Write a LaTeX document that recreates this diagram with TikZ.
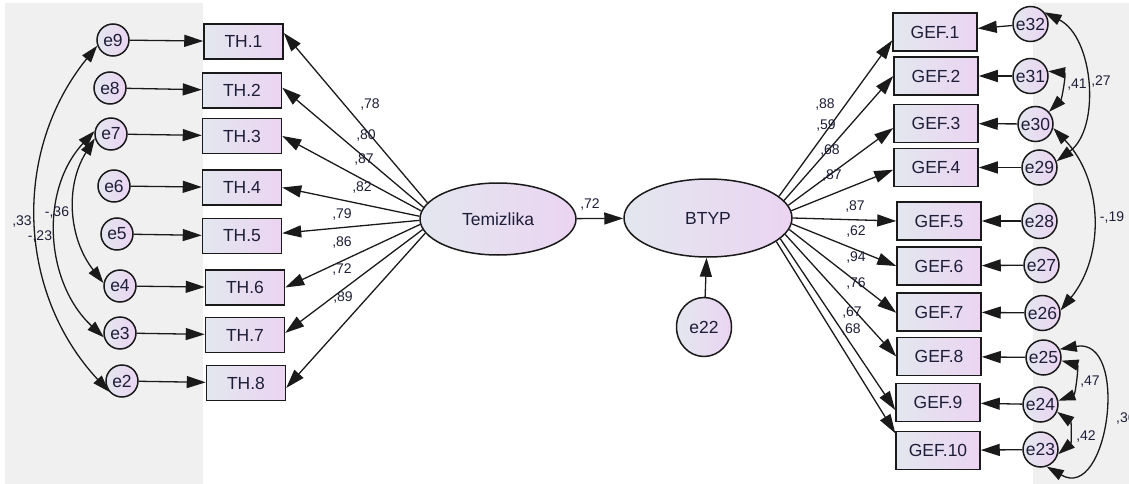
\documentclass[tikz,border=0pt]{standalone}
\usepackage{fontspec}
\setmainfont{Liberation Sans}
\usetikzlibrary{shapes.geometric,arrows.meta}
\definecolor{gL}{HTML}{E3E7EF}
\definecolor{gR}{HTML}{EBD4F1}
\definecolor{bgg}{HTML}{F0F0F0}
\definecolor{txt}{HTML}{1E1E38}
\definecolor{ln}{HTML}{1A1A1A}
\newcommand{\mainfs}{\fontsize{17.5}{20}\selectfont}
\newcommand{\labfs}{\fontsize{14}{16}\selectfont}
\begin{document}
\begin{tikzpicture}[x=1pt,y=1pt,
  >={Triangle[length=19pt,width=12pt]},
  shp/.style={draw=ln, line width=1.5pt, left color=gL, right color=gR, text=txt, font=\mainfs, inner sep=0pt},
  thbox/.style={shp, rectangle, minimum width=79pt, minimum height=35pt},
  gefbox/.style={shp, rectangle, minimum width=84pt, minimum height=38pt},
  lerr/.style={shp, circle, minimum size=32pt},
  rerr/.style={shp, circle, minimum size=35pt},
  lat/.style={shp, ellipse},
  pth/.style={->, draw=ln, line width=1.3pt},
  cov/.style={{Triangle[length=17pt,width=11pt]}-{Triangle[length=17pt,width=11pt]}, draw=ln, line width=1.3pt},
  lab/.style={font=\labfs, text=txt, inner sep=0pt}
]
\useasboundingbox (0,0) rectangle (1129,-484);
\fill[bgg] (5,-3) rectangle (203,-484);
\fill[bgg] (1033,-3) rectangle (1129,-484);

% left error terms
\node[lerr] (e9) at (113,-40) {e9};
\node[lerr] (e8) at (110,-88) {e8};
\node[lerr] (e7) at (111,-134) {e7};
\node[lerr] (e6) at (114,-186) {e6};
\node[lerr] (e5) at (117,-234) {e5};
\node[lerr] (e4) at (120,-286) {e4};
\node[lerr] (e3) at (120,-333) {e3};
\node[lerr] (e2) at (122,-381) {e2};

% TH boxes
\node[thbox] (th1) at (243.5,-41.5) {TH.1};
\node[thbox] (th2) at (242,-90.5) {TH.2};
\node[thbox] (th3) at (242,-136) {TH.3};
\node[thbox] (th4) at (242,-187.5) {TH.4};
\node[thbox] (th5) at (242,-236) {TH.5};
\node[thbox] (th6) at (245,-287.5) {TH.6};
\node[thbox] (th7) at (245,-335) {TH.7};
\node[thbox] (th8) at (246,-383) {TH.8};

% latent variables
\node[lat, minimum width=156pt, minimum height=72pt] (tem) at (498,-219) {Temizlika};
\node[lat, minimum width=168pt, minimum height=78pt] (btyp) at (708,-218) {BTYP};
\node[shp, ellipse, minimum width=55pt, minimum height=59pt] (e22) at (704,-327) {e22};

% GEF boxes
\node[gefbox] (gef1) at (935,-32) {GEF.1};
\node[gefbox] (gef2) at (936,-76) {GEF.2};
\node[gefbox] (gef3) at (936,-123.5) {GEF.3};
\node[gefbox] (gef4) at (936,-167.5) {GEF.4};
\node[gefbox] (gef5) at (939,-221) {GEF.5};
\node[gefbox] (gef6) at (939,-266) {GEF.6};
\node[gefbox] (gef7) at (939,-312) {GEF.7};
\node[gefbox] (gef8) at (939,-356.5) {GEF.8};
\node[gefbox] (gef9) at (938,-402.5) {GEF.9};
\node[gefbox] (gef10) at (938,-450.5) {GEF.10};

% right error terms
\node[rerr] (e32) at (1030.5,-24) {e32};
\node[rerr] (e31) at (1030.5,-76) {e31};
\node[rerr] (e30) at (1035.5,-124) {e30};
\node[rerr] (e29) at (1039.5,-167.5) {e29};
\node[rerr] (e28) at (1039.5,-221) {e28};
\node[rerr] (e27) at (1041.5,-265) {e27};
\node[rerr] (e26) at (1042.5,-313) {e26};
\node[rerr] (e25) at (1043.5,-357.5) {e25};
\node[rerr] (e24) at (1040.5,-404.5) {e24};
\node[rerr] (e23) at (1040.5,-449.5) {e23};

% error -> TH
\foreach \a/\b in {e9/th1,e8/th2,e7/th3,e6/th4,e5/th5,e4/th6,e3/th7,e2/th8}
  \draw[pth] (\a) -- (\b);

% Temizlika -> TH
\draw[pth] (tem.167) -- (th1.12);
\draw[pth] (tem.171) -- (th2.4);
\draw[pth] (tem.174) -- (th3.east);
\draw[pth] (tem.178) -- (th4.east);
\draw[pth] (tem.181) -- (th5.4);
\draw[pth] (tem.184) -- (th6.east);
\draw[pth] (tem.188) -- (th7.3);
\draw[pth] (tem.191) -- (th8.353);

% structural
\draw[pth] (tem) -- (btyp);
\draw[pth] (e22) -- (btyp);

% BTYP -> GEF
\draw[pth] (btyp.17) -- (gef1.191);
\draw[pth] (btyp.13) -- (gef2.180);
\draw[pth] (btyp.9) -- (gef3.186);
\draw[pth] (btyp.5) -- (gef4.183);
\draw[pth] (btyp.0) -- (gef5.180);
\draw[pth] (btyp.356) -- (gef6.180);
\draw[pth] (btyp.352) -- (gef7.181);
\draw[pth] (btyp.348) -- (gef8.180);
\draw[pth] (btyp.344) -- (gef9.190);
\draw[pth] (btyp.341) -- (gef10.158);

% error -> GEF
\foreach \a/\b in {e32/gef1,e31/gef2,e30/gef3,e29/gef4,e28/gef5,e27/gef6,e26/gef7,e25/gef8,e24/gef9,e23/gef10}
  \draw[pth] (\a) -- (\b);

% left covariances
\draw[cov] (e9.200) to[out=231,in=133] (e2.220);
\draw[cov] (e7.170) to[out=227,in=137] (e3.195);
\draw[cov] (e7.195) to[out=238,in=128] (e4.170);

% right covariances
\draw[cov] (e32.40) to[out=-27,in=37,looseness=0.95] (e29.20);
\draw[cov] (e31.15) to[out=-5,in=45,looseness=1.15] (e30.42);
\draw[cov] (e30.347) to[out=-46,in=51] (e26.8);
\draw[cov] (e25.350) to[out=-15,in=20,looseness=1.15] (e24.12);
\draw[cov] (e24.336) to[out=-35,in=40,looseness=1.05] (e23.345);
\draw[cov] (e25.27) to[out=10,in=-30,looseness=1.55] (e23.290);

% loading labels left
\node[lab] (l1) at (370,-105) {,78};
\node[lab] (l2) at (366,-136) {,80};
\node[lab] (l3) at (364,-160) {,87};
\node[lab] (l4) at (362,-188) {,82};
\node[lab] (l5) at (342,-215) {,79};
\node[lab] (l6) at (342,-243) {,86};
\node[lab] (l7) at (342,-270) {,72};
\node[lab] (l8) at (343,-298) {,89};
\node[lab] (lst) at (590,-205) {,72};

% loading labels right
\node[lab] (r1) at (825,-105) {,88};
\node[lab] (r2) at (826,-126) {,59};
\node[lab] (r3) at (830,-151) {,68};
\node[lab] (r4) at (832,-176) {,87};
\node[lab] (r5) at (855,-207) {,87};
\node[lab] (r6) at (856,-232) {,62};
\node[lab] (r7) at (856,-258) {,94};
\node[lab] (r8) at (856,-284) {,76};
\node[lab] (r9) at (852,-313) {,67};
\node[lab] (r10) at (851,-330) {,68};

% covariance labels
\node[lab] (c1) at (22,-222) {,33};
\node[lab] (c2) at (57,-213) {-,36};
\node[lab] (c3) at (40,-237) {-,23};
\node[lab] (c4) at (1077,-85) {,41};
\node[lab] (c5) at (1101,-82) {,27};
\node[lab] (c6) at (1112,-218) {-,19};
\node[lab] (c7) at (1090,-382) {,47};
\node[lab] (c8) at (1086,-437) {,42};
\node[lab, anchor=west] (c9) at (1116,-419) {,36};
\end{tikzpicture}
\end{document}
